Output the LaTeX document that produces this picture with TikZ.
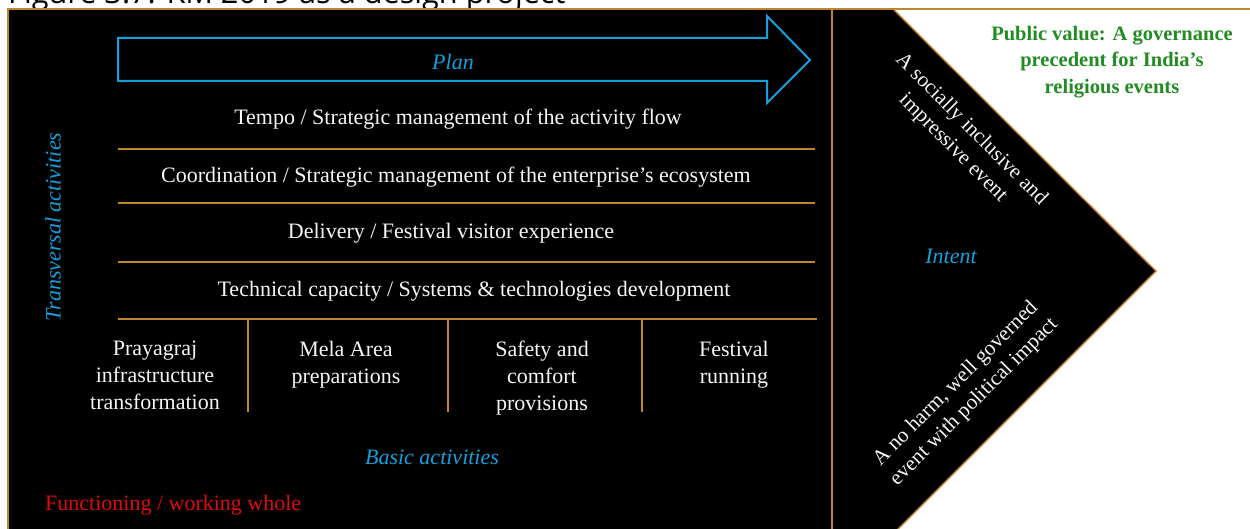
\documentclass[tikz,border=0pt]{standalone}
\usepackage{fontspec}
\setmainfont{Liberation Serif}
\newfontfamily\capfont{Open Sans}
\definecolor{rule}{RGB}{190,135,45}
\definecolor{accent}{RGB}{20,160,220}
\definecolor{valuegreen}{RGB}{34,139,34}
\definecolor{wholered}{RGB}{225,10,10}
\definecolor{paper}{RGB}{245,245,245}
\tikzset{
  ruleline/.style={draw=rule, line width=1.4pt},
  bodytext/.style={text=paper, font=\fontsize{22}{27}\selectfont, align=center, inner sep=0pt},
  slanttext/.style={text=paper, font=\fontsize{21.3}{26}\selectfont, align=center, inner sep=0pt},
  bluelabel/.style={text=accent, font=\fontsize{22}{27}\selectfont\itshape, inner sep=0pt},
  planline/.style={draw=accent, line width=2pt, line join=miter},
}
\begin{document}
\begin{tikzpicture}[x=1pt,y=-1pt]
\useasboundingbox (0,0) rectangle (1250,529);
\clip (0,0) rectangle (1250,529);

% caption line, mostly above the frame
\node[anchor=base west, inner sep=0pt] (caption) at (8,3.5)
  {\resizebox{557pt}{!}{\capfont Figure 3.7: KM 2019 as a design project}};

% black panels
\fill[black] (8,9) rectangle (832,545);
\fill[black] (832,9) -- (893,9) -- (1156,271) -- (882,545) -- (832,545) -- cycle;
\draw[ruleline] (8,545) -- (8,9) -- (1250,9);
\draw[ruleline] (832,9) -- (832,545);
\draw[ruleline] (893,9) -- (1156,271) -- (882,545);

% plan arrow
\draw[planline] (118,38) -- (767,38) -- (767,16) -- (810,60) -- (767,103)
  -- (767,81) -- (118,81) -- cycle;
\node[bluelabel] (plan) at (453,62) {Plan};

% transversal activity rows
\node[bodytext] (tempo) at (458,119) {Tempo / Strategic management of the activity flow};
\node[bodytext] (coord) at (456,177) {Coordination / Strategic management of the enterprise’s ecosystem};
\node[bodytext] (deliv) at (451,233) {Delivery / Festival visitor experience};
\node[bodytext] (tech) at (474,291) {Technical capacity / Systems \& technologies development};
\draw[ruleline] (118,149) -- (815,149);
\draw[ruleline] (118,203) -- (815,203);
\draw[ruleline] (118,262) -- (815,262);
\draw[ruleline] (118,319) -- (817,319);

\node[bluelabel, rotate=90] (transv) at (53,227) {Transversal activities};

% basic activity columns
\draw[ruleline] (248,320) -- (248,412);
\draw[ruleline] (448,320) -- (448,412);
\draw[ruleline] (642,320) -- (642,412);
\node[bodytext, anchor=north] (colA) at (155,341) {Prayagraj\\infrastructure\\transformation};
\node[bodytext, anchor=north] (colB) at (346,341) {Mela Area\\preparations};
\node[bodytext, anchor=north] (colC) at (542,341) {Safety and\\comfort\\provisions};
\node[bodytext, anchor=north] (colD) at (734,341) {Festival\\running};

\node[bluelabel] (basic) at (432,457) {Basic activities};
\node[text=wholered, font=\fontsize{22}{27}\selectfont, anchor=west, inner sep=0pt]
  (whole) at (45,505) {Functioning / working whole};

% intent chevron
\node[slanttext, rotate=-45] (social) at (962,139)
  {A socially inclusive and\\impressive event};
\node[bluelabel] (intent) at (951,256) {Intent};
\node[slanttext, rotate=45] (noharm) at (965,393)
  {A no harm, well governed\\event with political impact};

% public value
\node[text=valuegreen, font=\fontsize{20.5}{26.5}\selectfont\bfseries, align=center, inner sep=0pt]
  (value) at (1112,62) {Public value: A governance\\precedent for India’s\\religious events};
\end{tikzpicture}
\end{document}
